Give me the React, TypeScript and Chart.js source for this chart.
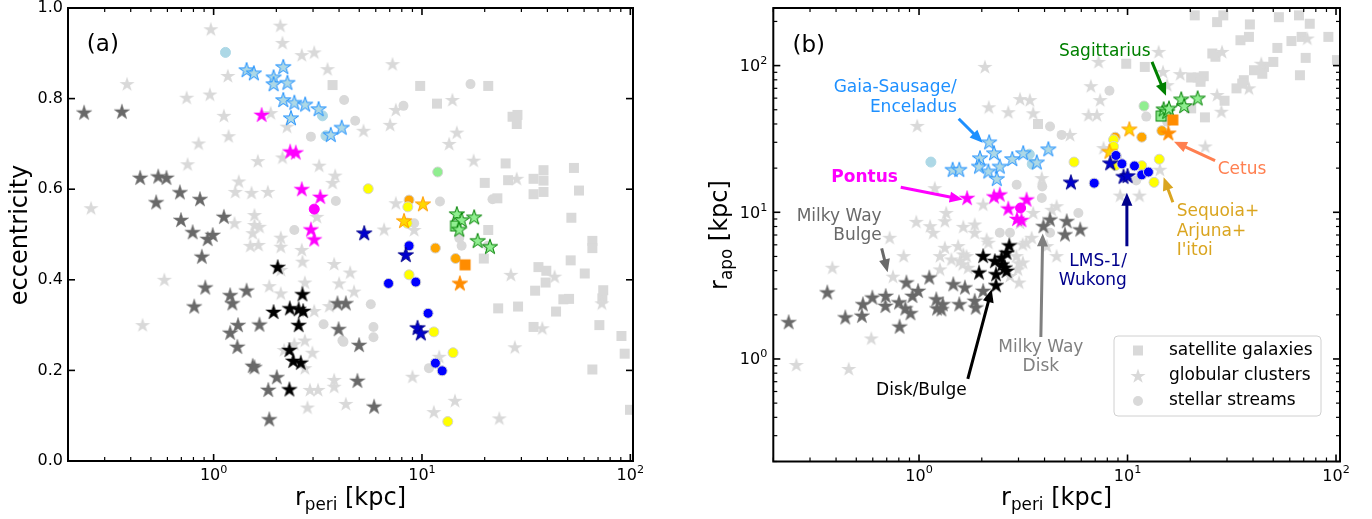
import React, { useEffect, useRef } from 'react';
import { Chart, registerables } from 'chart.js';
Chart.register(...registerables);

type P = [number, number];

// ================= Panel (a): r_peri [kpc] vs eccentricity =================
const aSatellites: P[] = [[3.72,0.83],[9.8,0.828],[20.8,0.828],[11.8,0.789],[27.2,0.76],[28.7,0.764],[28.5,0.744],[25.2,0.657],[20.0,0.614],[25.9,0.62],[23.0,0.58],[34.3,0.623],[38.3,0.642],[38.3,0.619],[34.3,0.589],[38.3,0.594],[53.6,0.647],[56.7,0.597],[52.1,0.537],[20.8,0.51],[65.7,0.486],[65.7,0.47],[19.8,0.447],[36.2,0.428],[39.5,0.42],[39.2,0.394],[51.7,0.443],[60.4,0.414],[34.9,0.376],[74.1,0.377],[73.4,0.359],[47.7,0.357],[50.8,0.358],[28.9,0.341],[23.2,0.337],[44.0,0.33],[71.0,0.3],[34.3,0.296],[90.6,0.276],[93.9,0.237],[65.7,0.202],[99.6,0.113]];
const aClusters: P[] = [[0.97,0.953],[2.09,0.961],[2.14,0.923],[2.65,0.896],[3.04,0.902],[3.52,0.865],[1.17,0.85],[0.384,0.832],[0.742,0.802],[0.96,0.809],[1.12,0.762],[1.18,0.717],[1.88,0.768],[2.25,0.738],[0.847,0.701],[0.75,0.655],[1.63,0.662],[2.14,0.67],[3.21,0.652],[3.83,0.63],[3.72,0.614],[1.32,0.617],[1.27,0.594],[1.52,0.592],[1.82,0.594],[0.258,0.558],[1.26,0.525],[1.57,0.543],[1.57,0.521],[1.54,0.503],[1.66,0.517],[1.5,0.475],[1.64,0.477],[2.1,0.493],[2.1,0.473],[2.65,0.466],[3.13,0.539],[7.22,0.876],[14.0,0.797],[7.49,0.775],[7.03,0.742],[5.24,0.729],[14.7,0.725],[13.5,0.7],[17.7,0.663],[28.5,0.623],[7.49,0.569],[6.58,0.511],[9.17,0.51],[26.7,0.411],[43.3,0.407],[73,0.348],[37.8,0.293],[27.9,0.251],[12.1,0.23],[9.0,0.186],[4.52,0.416],[4.72,0.374],[4.31,0.126],[11.4,0.108],[14.4,0.133],[23.5,0.094],[0.58,0.4],[0.456,0.3],[1.85,0.386],[2.1,0.37],[2.74,0.394],[2.1,0.422],[2.67,0.44],[3.79,0.435],[4.0,0.392],[3.04,0.331],[3.59,0.342],[2.74,0.266],[2.44,0.258],[2.98,0.239],[2.18,0.245],[2.74,0.205],[2.9,0.157],[3.17,0.157],[2.82,0.118],[3.79,0.179],[3.79,0.164]];
const aStreams: P[] = [[2.44,0.51],[2.93,0.716],[4.23,0.797],[4.78,0.751],[3.86,0.574],[17.1,0.832],[8.15,0.784],[12.2,0.573],[21.8,0.578],[9.17,0.525],[15.1,0.492],[15.5,0.475],[20.7,0.475],[5.68,0.346],[5.85,0.296],[5.85,0.273],[4.2,0.263],[10.8,0.205],[3.37,0.302],[4.15,0.266]];
const aBulge: P[] = [[0.239,0.769],[0.363,0.771],[0.444,0.625],[0.542,0.628],[0.594,0.625],[0.53,0.571],[0.689,0.593],[0.86,0.578],[0.697,0.532],[0.793,0.505],[0.936,0.49],[0.99,0.499],[1.12,0.539],[0.878,0.451],[0.912,0.383],[0.807,0.341],[1.2,0.366],[1.23,0.348],[1.44,0.376],[1.2,0.283],[1.31,0.3],[1.3,0.252],[1.66,0.301],[1.54,0.21],[1.57,0.207],[2.01,0.185],[1.83,0.157],[1.85,0.092],[3.93,0.348],[4.31,0.348],[3.98,0.291],[4.99,0.256],[4.9,0.177],[5.89,0.12]];
const aDisk: P[] = [[2.03,0.428],[1.94,0.329],[2.32,0.337],[2.56,0.335],[2.67,0.368],[2.69,0.331],[2.56,0.3],[2.31,0.245],[2.41,0.221],[2.62,0.217],[2.31,0.158]];
const aGseStars: P[] = [[1.44,0.863],[1.56,0.856],[2.16,0.87],[1.94,0.847],[1.94,0.832],[2.26,0.835],[2.16,0.797],[2.44,0.791],[2.75,0.787],[3.19,0.777],[2.35,0.757],[3.65,0.72],[4.12,0.736]];
const aGseStreams: P[] = [[1.14,0.902],[3.33,0.762],[3.46,0.718]];
const aPontusStars: P[] = [[1.70,0.764],[2.33,0.683],[2.48,0.681],[2.65,0.6],[3.25,0.583],[2.93,0.511],[3.04,0.489]];
const aPontusStreams: P[] = [[3.04,0.556]];
const aSgrStars: P[] = [[14.7,0.545],[15.5,0.532],[17.8,0.538],[15.1,0.511],[18.5,0.486],[21.2,0.473]];
const aSgrSatellite: P[] = [[14.5,0.519]];
const aSgrStreams: P[] = [[11.9,0.638]];
const aCetusStreams: P[] = [[8.67,0.576],[11.6,0.47],[14.5,0.447]];
const aCetusSatellite: P[] = [[16.1,0.433]];
const aCetusStars: P[] = [[15.2,0.392]];
const aSeqStreams: P[] = [[5.52,0.601],[8.55,0.561],[8.5,0.525],[8.67,0.411],[11.4,0.285],[14.1,0.239],[13.3,0.087]];
const aSeqStars: P[] = [[10.1,0.567],[8.2,0.53]];
const aLmsStreams: P[] = [[8.67,0.475],[6.91,0.392],[9.34,0.395],[10.7,0.326],[11.6,0.216],[12.5,0.199]];
const aLmsStars: P[] = [[5.28,0.503],[8.36,0.455],[9.52,0.294],[9.87,0.282]];

// ================= Panel (b): r_peri [kpc] vs r_apo [kpc] =================
const bSatellites: P[] = [[21.0,220],[26.9,198],[28.8,220],[38.6,191],[34.8,149],[38.2,157],[53.2,214],[66.4,220],[74.8,193],[61.1,147],[68.4,157],[52.3,132],[91.9,157],[71.5,113],[101,109],[25.5,121],[26.4,115],[50.0,106],[45.1,98],[40.4,93],[44.3,88],[36.1,79.6],[35.5,75.5],[67.1,86],[33.3,70],[20.2,83],[21.7,83],[23.2,84.7],[22.4,77.6],[29.2,57.6],[20.2,51.1],[23.5,44.4],[9.86,103],[12.1,98],[3.72,40]];
const bClusters: P[] = [[2.07,98],[3.05,59.1],[2.16,52],[2.68,48.1],[0.98,38.8],[1.19,14.6],[0.97,8.61],[1.13,8.04],[1.33,8.69],[1.63,7.96],[1.85,8.26],[2.03,11.3],[1.33,5.73],[1.54,5.88],[0.723,6.7],[0.384,4.19],[0.844,5.03],[0.75,3.64],[1.17,7.25],[1.85,7.25],[1.63,5.16],[1.43,4.77],[1.57,4.65],[1.26,4.08],[1.72,4.19],[2.15,6.2],[0.59,1.38],[0.258,0.91],[0.46,0.855],[3.53,47.3],[5.3,33.7],[3.88,17.1],[4.57,11.0],[4.33,10.4],[3.53,9.9],[3.05,8.47],[2.11,6.53],[3.14,6.04],[3.47,6.7],[3.01,4.49],[1.35,9.9],[1.26,5.03],[1.69,5.03],[3.02,3.32],[4.1,5.88],[4.57,5.03],[6.5,46.0],[7.13,46.0],[11.4,13.0],[9.22,13.0],[7.67,27.4],[14.3,19.5],[14.1,124],[28.4,124],[7.26,106],[6.67,72.4],[7.39,58.2],[17.9,87.5],[26.9,63],[28.2,48.5],[15.5,73.6],[23.6,28.1],[3.4,58.2],[14.8,90.6],[38.2,70],[43.8,103],[72.8,153],[1.62,4.42],[2.73,3.68],[2.98,4.08],[3.15,4.55],[3.27,6.2],[2.93,5.03]];
const bStreams: P[] = [[4.25,38.4],[4.83,33.7],[2.94,15.4],[3.9,15.0],[5.81,9.9],[2.44,7.25],[2.73,7.25],[4.25,7.25],[8.9,24.0],[11.0,16.5],[8.19,67.3],[12.3,44.9],[15.5,41.5],[22.4,79.6],[3.88,12.5]];
const bBulge: P[] = [[0.237,1.78],[0.363,2.84],[0.443,1.92],[0.532,1.97],[0.538,2.36],[0.597,2.62],[0.692,2.69],[0.69,2.3],[0.807,1.66],[0.801,2.43],[0.87,3.32],[0.86,2.21],[0.91,2.05],[0.93,2.69],[0.99,2.91],[1.12,3.59],[1.21,2.55],[1.22,2.21],[1.3,2.36],[1.28,2.18],[1.46,3.23],[1.56,2.36],[1.66,3.07],[1.85,2.49],[1.87,2.24],[2.03,2.91],[4.25,8.92],[3.95,8.04],[5.11,8.69],[5.93,7.63],[5.01,7.06]];
const bDisk: P[] = [[2.03,5.03],[1.94,3.88],[2.31,4.65],[2.34,3.78],[2.49,4.9],[2.63,5.3],[2.71,5.94],[2.58,4.19],[2.34,3.18],[2.63,3.98],[2.5,4.4]];
const bGseStars: P[] = [[2.17,30.0],[2.29,25.3],[1.96,23.4],[2.8,23.1],[3.16,25.3],[4.17,26.9],[3.67,21.9],[2.44,20.5],[1.94,20.5],[2.15,19.0],[2.36,16.9],[1.45,19.5],[1.56,19.5]];
const bGseStreams: P[] = [[1.14,22.0],[3.38,24.9],[3.49,21.3]];
const bPontusStars: P[] = [[1.70,12.5],[2.29,12.8],[2.44,13.2],[2.68,10.6],[2.95,9.0],[3.1,8.84],[3.28,12.2]];
const bPontusStreams: P[] = [[3.07,10.7]];
const bSgrStars: P[] = [[18.1,58.9],[18.7,53.0],[21.7,59.8],[14.9,50.4],[15.5,48.5],[15.8,51]];
const bSgrSatellite: P[] = [[14.5,45.3]];
const bSgrStreams: P[] = [[12.0,53.0]];
const bCetusStreams: P[] = [[14.6,36.0],[11.7,32.5],[8.73,32.5]];
const bCetusSatellite: P[] = [[16.5,42.6]];
const bCetusStars: P[] = [[15.7,34.6]];
const bSeqStreams: P[] = [[8.57,31.2],[8.57,28.1],[5.54,22.0],[8.73,20.8],[11.7,20.8],[14.2,23.0],[13.4,16.0]];
const bSeqStars: P[] = [[10.2,36.8],[8.19,25.9]];
const bLmsStreams: P[] = [[6.92,15.8],[8.8,24.4],[9.4,21.4],[10.8,20.7],[11.7,18.0],[12.6,18.8]];
const bLmsStars: P[] = [[5.35,16.0],[8.26,21.6],[9.57,17.5],[10.0,17.7]];

// ticks
const logMajors = [0.1, 1, 10, 100];
const eccMajors = [0, 0.2, 0.4, 0.6, 0.8, 1.0];
const legendLabels = ['satellite galaxies', 'globular clusters', 'stellar streams'];

// annotations in data coordinates
type Txt = { t: string; x: number; y: number; color: string; align: CanvasTextAlign; bold?: boolean; size?: number };
type Arr = { x1: number; y1: number; x2: number; y2: number; color: string };
const aTexts: Txt[] = [{ t: '(a)', x: 0.294, y: 0.918, color: '#000', align: 'center', size: 23 }];
const bTexts: Txt[] = [
  { t: '(b)', x: 0.296, y: 136, color: '#000', align: 'center', size: 23 },
  { t: 'Gaia-Sausage/', x: 1.517, y: 70.5, color: '#1e90ff', align: 'right' },
  { t: 'Enceladus', x: 1.517, y: 51.6, color: '#1e90ff', align: 'right' },
  { t: 'Pontus', x: 0.548, y: 17.3, color: '#ff00ff', align: 'center', bold: true },
  { t: 'Milky Way', x: 0.662, y: 9.37, color: '#696969', align: 'right' },
  { t: 'Bulge', x: 0.662, y: 6.96, color: '#696969', align: 'right' },
  { t: 'Disk/Bulge', x: 1.027, y: 0.609, color: '#000', align: 'center' },
  { t: 'Milky Way', x: 3.84, y: 1.188, color: '#808080', align: 'center' },
  { t: 'Disk', x: 3.84, y: 0.882, color: '#808080', align: 'center' },
  { t: 'LMS-1/', x: 9.93, y: 4.63, color: '#00008b', align: 'right' },
  { t: 'Wukong', x: 9.93, y: 3.44, color: '#00008b', align: 'right' },
  { t: 'Sagittarius', x: 7.78, y: 124, color: '#008000', align: 'center' },
  { t: 'Cetus', x: 35.4, y: 19.5, color: '#ff7f50', align: 'center' },
  { t: 'Sequoia+', x: 17.2, y: 10.1, color: '#daa520', align: 'left' },
  { t: 'Arjuna+', x: 17.2, y: 7.41, color: '#daa520', align: 'left' },
  { t: "I'itoi", x: 17.2, y: 5.5, color: '#daa520', align: 'left' },
];
const bArrows: Arr[] = [
  { x1: 1.55, y1: 43.4, x2: 2.02, y2: 29.8, color: '#1e90ff' },
  { x1: 0.817, y1: 14.8, x2: 1.62, y2: 12.2, color: '#ff00ff' },
  { x1: 0.662, y1: 5.68, x2: 0.707, y2: 3.9, color: '#696969' },
  { x1: 1.714, y1: 0.731, x2: 2.23, y2: 2.99, color: '#000' },
  { x1: 3.84, y1: 1.41, x2: 3.92, y2: 7.18, color: '#808080' },
  { x1: 9.93, y1: 5.86, x2: 9.93, y2: 13.6, color: '#00008b' },
  { x1: 13.1, y1: 106, x2: 15.3, y2: 62.2, color: '#008000' },
  { x1: 26.3, y1: 22.5, x2: 16.7, y2: 30.3, color: '#ff7f50' },
  { x1: 16.5, y1: 11.7, x2: 14.9, y2: 17.3, color: '#daa520' },
];

const FONT = '"DejaVu Sans", sans-serif';
const GRAY = '#d9d9d9';
const STAR_R = 8;

function mkCanvas(w: number, h: number) {
  const c = document.createElement('canvas');
  c.width = w; c.height = h;
  return c;
}
function starImg(fill: string, stroke: string | null, R = STAR_R, lw = 1) {
  const s = Math.ceil(2 * R + 4);
  const c = mkCanvas(s, s);
  const ctx = c.getContext('2d')!;
  const cx = s / 2, cy = s / 2 + 0.4;
  ctx.beginPath();
  for (let i = 0; i < 10; i++) {
    const r = i % 2 === 0 ? R : R * 0.381966;
    const a = -Math.PI / 2 + (i * Math.PI) / 5;
    ctx.lineTo(cx + r * Math.cos(a), cy + r * Math.sin(a));
  }
  ctx.closePath();
  ctx.fillStyle = fill; ctx.fill();
  if (stroke) { ctx.lineWidth = lw; ctx.strokeStyle = stroke; ctx.lineJoin = 'miter'; ctx.stroke(); }
  return c;
}
function squareImg(fill: string, stroke: string | null, side = 10, lw = 1) {
  const s = Math.ceil(side + 4);
  const c = mkCanvas(s, s);
  const ctx = c.getContext('2d')!;
  const o = (s - side) / 2;
  ctx.fillStyle = fill; ctx.fillRect(o, o, side, side);
  if (stroke) { ctx.lineWidth = lw; ctx.strokeStyle = stroke; ctx.strokeRect(o, o, side, side); }
  return c;
}

function pts(a: P[]) { return a.map(([x, y]) => ({ x, y })); }
function imgSet(label: string, a: P[], img: HTMLCanvasElement, order: number) {
  return { label, data: pts(a), pointStyle: img, pointRadius: 5, pointHoverRadius: 5, order, clip: 0 } as any;
}
function dotSet(label: string, a: P[], fill: string, edge: string, order: number, bw = 1) {
  return { label, data: pts(a), pointStyle: 'circle', pointRadius: 5, pointHoverRadius: 5, pointBackgroundColor: fill, pointBorderColor: edge, pointBorderWidth: bw, order, clip: 0 } as any;
}

function buildSets(g: any) {
  const grayStar = starImg(GRAY, null);
  const graySq = squareImg(GRAY, null);
  return [
    imgSet('lms stars', g.lmsStars, starImg('#0000cd', '#00008b'), 1),
    dotSet('lms streams', g.lmsStreams, '#0000ff', '#d3d3d3', 1),
    imgSet('seq stars', g.seqStars, starImg('#ffd700', '#ff9900'), 1),
    dotSet('seq streams', g.seqStreams, '#ffff00', '#d3d3d3', 1),
    imgSet('cetus stars', g.cetusStars, starImg('#ff8c00', '#ff8c00'), 1),
    imgSet('cetus sat', g.cetusSat, squareImg('#ff8c00', '#ff8c00'), 1),
    dotSet('cetus streams', g.cetusStreams, '#ffa500', '#d3d3d3', 1),
    imgSet('sgr stars', g.sgrStars, starImg('#90ee90', '#008000'), 1),
    imgSet('sgr sat', g.sgrSat, squareImg('#90ee90', '#008000'), 1),
    dotSet('sgr streams', g.sgrStreams, '#90ee90', '#d3d3d3', 1),
    imgSet('pontus stars', g.pontusStars, starImg('#ff00ff', '#ff00ff', STAR_R, 0.5), 1),
    dotSet('pontus streams', g.pontusStreams, '#ff00ff', '#ff00ff', 1),
    imgSet('gse stars', g.gseStars, starImg('#add8e6', '#1e90ff'), 1),
    dotSet('gse streams', g.gseStreams, '#add8e6', '#add8e6', 1),
    imgSet('disk', g.disk, starImg('#000000', '#000000', STAR_R, 0.5), 2),
    imgSet('bulge', g.bulge, starImg('#696969', '#696969', STAR_R, 0.5), 2),
    dotSet('streams', g.streams, GRAY, GRAY, 3, 0),
    imgSet('clusters', g.clusters, grayStar, 4),
    imgSet('satellites', g.satellites, graySq, 5),
  ];
}

function minorLogs(lo: number, hi: number) {
  const out: number[] = [];
  for (let e = -2; e <= 3; e++) for (let m = 2; m <= 9; m++) { const v = m * Math.pow(10, e); if (v >= lo && v <= hi) out.push(v); }
  return out;
}

function drawPow(ctx: CanvasRenderingContext2D, exp: string, x: number, y: number, align: 'center' | 'right', size: number) {
  ctx.font = `${size}px ${FONT}`;
  const w1 = ctx.measureText('10').width;
  ctx.font = `${size * 0.7}px ${FONT}`;
  const w2 = ctx.measureText(exp).width;
  const total = w1 + w2;
  const x0 = align === 'center' ? x - total / 2 : x - total;
  ctx.textAlign = 'left'; ctx.textBaseline = 'alphabetic';
  ctx.font = `${size}px ${FONT}`;
  ctx.fillText('10', x0, y);
  ctx.font = `${size * 0.7}px ${FONT}`;
  ctx.fillText(exp, x0 + w1, y - size * 0.45);
}

function drawRich(ctx: CanvasRenderingContext2D, parts: { t: string; sub?: boolean }[], size: number) {
  const main = `${size}px ${FONT}`, small = `${size * 0.7}px ${FONT}`;
  let total = 0;
  for (const p of parts) { ctx.font = p.sub ? small : main; total += ctx.measureText(p.t).width; }
  let cx = -total / 2;
  ctx.textAlign = 'left'; ctx.textBaseline = 'alphabetic';
  for (const p of parts) {
    ctx.font = p.sub ? small : main;
    ctx.fillText(p.t, cx, p.sub ? size * 0.22 : 0);
    cx += ctx.measureText(p.t).width;
  }
}

function arrow(ctx: CanvasRenderingContext2D, x1: number, y1: number, x2: number, y2: number, color: string) {
  const dx = x2 - x1, dy = y2 - y1, L = Math.hypot(dx, dy);
  const ux = dx / L, uy = dy / L, nx = -uy, ny = ux;
  const hl = 13, hw = 5.5, sw = 1.5;
  const bx = x2 - ux * hl, by = y2 - uy * hl;
  ctx.beginPath();
  ctx.moveTo(x1 + nx * sw, y1 + ny * sw);
  ctx.lineTo(bx + nx * sw, by + ny * sw);
  ctx.lineTo(bx + nx * hw, by + ny * hw);
  ctx.lineTo(x2, y2);
  ctx.lineTo(bx - nx * hw, by - ny * hw);
  ctx.lineTo(bx - nx * sw, by - ny * sw);
  ctx.lineTo(x1 - nx * sw, y1 - ny * sw);
  ctx.closePath();
  ctx.fillStyle = color; ctx.fill();
}

function decorPlugin(cfg: any) {
  return {
    id: 'decor' + cfg.id,
    afterDatasetsDraw(chart: any) {
      const ctx: CanvasRenderingContext2D = chart.ctx;
      const { left, right, top, bottom } = chart.chartArea;
      const xs = chart.scales.x, ys = chart.scales.y;
      ctx.save();
      for (const a of cfg.arrows) {
        arrow(ctx, xs.getPixelForValue(a.x1), ys.getPixelForValue(a.y1), xs.getPixelForValue(a.x2), ys.getPixelForValue(a.y2), a.color);
      }
      for (const t of cfg.texts) {
        ctx.font = `${t.bold ? 'bold ' : ''}${t.size || 17}px ${FONT}`;
        ctx.fillStyle = t.color; ctx.textAlign = t.align; ctx.textBaseline = 'middle';
        ctx.fillText(t.t, xs.getPixelForValue(t.x), ys.getPixelForValue(t.y));
      }
      if (cfg.legend) {
        const w = 207, h = 80;
        const x0 = right - 19 - w, y0 = bottom - 45.5 - h;
        ctx.beginPath();
        (ctx as any).roundRect(x0, y0, w, h, 4);
        ctx.fillStyle = 'rgba(255,255,255,0.85)'; ctx.fill();
        ctx.strokeStyle = '#d0d0d0'; ctx.lineWidth = 1; ctx.stroke();
        const rows = [y0 + 14.5, y0 + 40, y0 + 65];
        const mx = x0 + 24;
        const sq = squareImg(GRAY, null), st = starImg(GRAY, null);
        ctx.drawImage(sq, mx - sq.width / 2, rows[0] - sq.height / 2);
        ctx.drawImage(st, mx - st.width / 2, rows[1] - st.height / 2);
        ctx.beginPath(); ctx.arc(mx, rows[2], 5, 0, Math.PI * 2); ctx.fillStyle = GRAY; ctx.fill();
        ctx.fillStyle = '#000'; ctx.font = `17px ${FONT}`; ctx.textAlign = 'left'; ctx.textBaseline = 'middle';
        legendLabels.forEach((l, i) => ctx.fillText(l, x0 + 55, rows[i]));
      }
      ctx.strokeStyle = '#000';
      ctx.lineWidth = 2;
      ctx.strokeRect(left, top, right - left, bottom - top);
      const MAJ = 7, MIN = 4;
      const vline = (x: number, y1: number, y2: number) => { ctx.beginPath(); ctx.moveTo(x, y1); ctx.lineTo(x, y2); ctx.stroke(); };
      const hline = (y: number, x1: number, x2: number) => { ctx.beginPath(); ctx.moveTo(x1, y); ctx.lineTo(x2, y); ctx.stroke(); };
      const inX = (p: number) => p >= left - 0.5 && p <= right + 0.5;
      const inY = (p: number) => p >= top - 0.5 && p <= bottom + 0.5;
      ctx.lineWidth = 1.2;
      for (const v of cfg.xMinor) { const p = xs.getPixelForValue(v); if (!inX(p)) continue; vline(p, bottom, bottom - MIN); vline(p, top, top + MIN); }
      for (const v of cfg.yMinor) { const p = ys.getPixelForValue(v); if (!inY(p)) continue; hline(p, left, left + MIN); hline(p, right, right - MIN); }
      ctx.lineWidth = 1.6;
      ctx.fillStyle = '#000';
      for (const v of cfg.xMajor) {
        const p = xs.getPixelForValue(v); if (!inX(p)) continue;
        vline(p, bottom, bottom - MAJ); vline(p, top, top + MAJ);
        drawPow(ctx, String(Math.round(Math.log10(v))), p, bottom + 19, 'center', 16);
      }
      for (const v of cfg.yMajor) {
        const p = ys.getPixelForValue(v); if (!inY(p)) continue;
        hline(p, left, left + MAJ); hline(p, right, right - MAJ);
        if (cfg.yLog) {
          drawPow(ctx, String(Math.round(Math.log10(v))), left - 6, p + 5.5, 'right', 16);
        } else {
          ctx.font = `16px ${FONT}`; ctx.textAlign = 'right'; ctx.textBaseline = 'middle';
          ctx.fillText(v.toFixed(1), left - 5, p);
        }
      }
      ctx.fillStyle = '#000';
      ctx.save();
      ctx.translate((left + right) / 2, 505);
      drawRich(ctx, [{ t: 'r' }, { t: 'peri', sub: true }, { t: ' [kpc]' }], 24);
      ctx.restore();
      ctx.save();
      ctx.translate(cfg.yTitleX, 235);
      ctx.rotate(-Math.PI / 2);
      drawRich(ctx, cfg.yTitle, 24);
      ctx.restore();
      ctx.restore();
    },
  };
}

function makeChart(canvas: HTMLCanvasElement, p: any) {
  return new Chart(canvas, {
    type: 'scatter',
    data: { datasets: buildSets(p.groups) },
    options: {
      animation: false,
      responsive: false,
      devicePixelRatio: 1,
      events: [],
      layout: { padding: p.padding },
      plugins: { legend: { display: false }, tooltip: { enabled: false }, title: { display: false } },
      scales: {
        x: {
          type: 'logarithmic', min: p.xMin, max: p.xMax,
          grid: { display: false }, border: { display: false }, ticks: { display: false },
          afterFit: (s: any) => { s.height = p.xHeight; },
        },
        y: {
          type: p.yLog ? 'logarithmic' : 'linear', min: p.yMin, max: p.yMax,
          grid: { display: false }, border: { display: false }, ticks: { display: false },
          afterFit: (s: any) => { s.width = p.yWidth; },
        },
      },
    } as any,
    plugins: [decorPlugin(p.decor)],
  });
}

export default function App() {
  const refA = useRef<HTMLCanvasElement>(null);
  const refB = useRef<HTMLCanvasElement>(null);
  useEffect(() => {
    const panelA = {
      groups: {
        satellites: aSatellites, clusters: aClusters, streams: aStreams, bulge: aBulge, disk: aDisk,
        gseStars: aGseStars, gseStreams: aGseStreams, pontusStars: aPontusStars, pontusStreams: aPontusStreams,
        sgrStars: aSgrStars, sgrSat: aSgrSatellite, sgrStreams: aSgrStreams,
        cetusStreams: aCetusStreams, cetusSat: aCetusSatellite, cetusStars: aCetusStars,
        seqStreams: aSeqStreams, seqStars: aSeqStars, lmsStreams: aLmsStreams, lmsStars: aLmsStars,
      },
      xMin: 0.2, xMax: 103, yMin: 0, yMax: 1, yLog: false,
      padding: { left: 0, right: 53, top: 8, bottom: 0 }, yWidth: 68, xHeight: 58,
      decor: {
        id: 'a', texts: aTexts, arrows: [], legend: false,
        xMajor: logMajors, xMinor: minorLogs(0.2, 103), yMajor: eccMajors, yMinor: [], yLog: false,
        yTitle: [{ t: 'eccentricity' }], yTitleX: 27,
      },
    };
    const panelB = {
      groups: {
        satellites: bSatellites, clusters: bClusters, streams: bStreams, bulge: bBulge, disk: bDisk,
        gseStars: bGseStars, gseStreams: bGseStreams, pontusStars: bPontusStars, pontusStreams: bPontusStreams,
        sgrStars: bSgrStars, sgrSat: bSgrSatellite, sgrStreams: bSgrStreams,
        cetusStreams: bCetusStreams, cetusSat: bCetusSatellite, cetusStars: bCetusStars,
        seqStreams: bSeqStreams, seqStars: bSeqStars, lmsStreams: bLmsStreams, lmsStars: bLmsStars,
      },
      xMin: 0.2, xMax: 104.5, yMin: 0.2, yMax: 247, yLog: true,
      padding: { left: 0, right: 32, top: 8, bottom: 0 }, yWidth: 87.3, xHeight: 57.5,
      decor: {
        id: 'b', texts: bTexts, arrows: bArrows, legend: true,
        xMajor: logMajors, xMinor: minorLogs(0.2, 104.5), yMajor: logMajors, yMinor: minorLogs(0.2, 247), yLog: true,
        yTitle: [{ t: 'r' }, { t: 'apo', sub: true }, { t: ' [kpc]' }], yTitleX: 727 - 686,
      },
    };
    const charts = [makeChart(refA.current!, panelA), makeChart(refB.current!, panelB)];
    return () => charts.forEach((c) => c.destroy());
  }, []);
  return (
    <div style={{ position: 'fixed', left: 0, top: 0, width: 1372, height: 519, background: '#fff' }}>
      <canvas ref={refA} width={686} height={519} style={{ position: 'absolute', left: 0, top: 0, width: 686, height: 519 }} />
      <canvas ref={refB} width={686} height={519} style={{ position: 'absolute', left: 686, top: 0, width: 686, height: 519 }} />
    </div>
  );
}
